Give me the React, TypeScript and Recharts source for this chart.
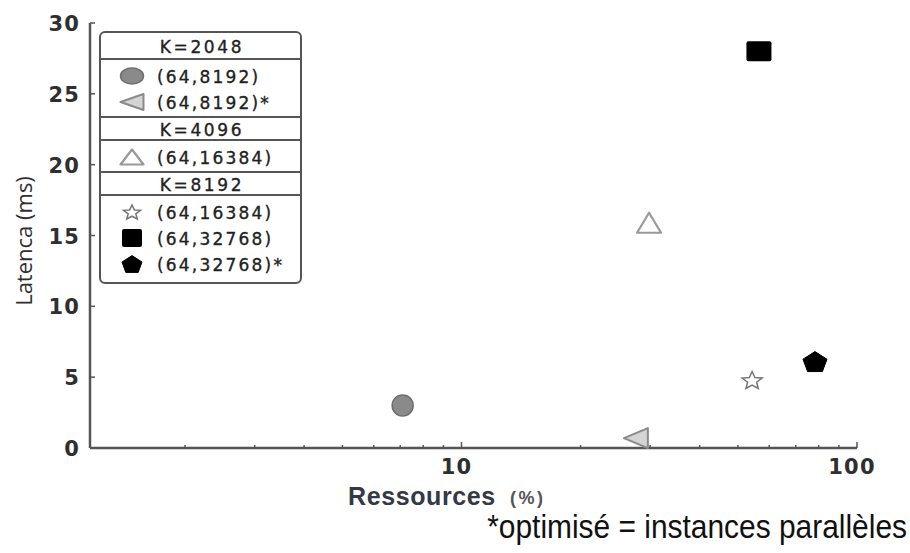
import React from "react";
import { Label, Legend, Scatter, ScatterChart, XAxis, YAxis } from "recharts";

// groups shown as headers in the legend box
const groupTitles = ["K=2048", "K=4096", "K=8192"];

// one point per series
const seriesNames = ["(64,8192)", "(64,8192)*", "(64,16384)", "(64,16384)", "(64,32768)", "(64,32768)*"];
const seriesGroup = [0, 0, 1, 2, 2, 2];
const seriesMarker = ["circle", "triLeft", "triUp", "star", "square", "pentagon"];
const resources = [7.1, 27.6, 29.8, 54.3, 56.5, 78.3];
const latency = [3.0, 0.7, 15.9, 4.8, 28.0, 6.1];

const xTicks = [2, 3, 4, 5, 6, 7, 8, 9, 10, 20, 30, 40, 50, 60, 70, 80, 90, 100];
const xLabeled = [10, 100];
const yTicks = [0, 5, 10, 15, 20, 25, 30];

const AXIS = "#555";

const starPoints = (cx, cy, w, h, spikes, inner) => {
  const pts = [];
  const n = inner ? spikes * 2 : spikes;
  const step = (Math.PI * 2) / n;
  const rx = w / 1.902;
  const ry = h / 1.809;
  const dy = 0.095 * ry;
  for (let i = 0; i < n; i++) {
    const a = -Math.PI / 2 + i * step;
    const r = inner && i % 2 === 1 ? inner : 1;
    pts.push(`${cx + Math.cos(a) * r * rx},${cy + dy + Math.sin(a) * r * ry}`);
  }
  return pts.join(" ");
};

const Marker = ({ kind, cx, cy, legend }) => {
  switch (kind) {
    case "circle":
      return legend ? (
        <ellipse cx={cx} cy={cy} rx={11.5} ry={8} fill="#8a8a8a" stroke="#6e6e6e" strokeWidth={1.5} />
      ) : (
        <circle cx={cx} cy={cy} r={10.5} fill="#8a8a8a" stroke="#6e6e6e" strokeWidth={1.5} />
      );
    case "triLeft": {
      const w = legend ? 23 : 24;
      const h = legend ? 16 : 20;
      return (
        <polygon
          points={`${cx - w / 2},${cy} ${cx + w / 2},${cy - h / 2} ${cx + w / 2},${cy + h / 2}`}
          fill="#d4d4d4"
          stroke="#8a8a8a"
          strokeWidth={2}
          strokeLinejoin="round"
        />
      );
    }
    case "triUp": {
      const w = legend ? 23 : 24;
      const h = legend ? 15 : 20;
      return (
        <polygon
          points={`${cx},${cy - h / 2} ${cx + w / 2},${cy + h / 2} ${cx - w / 2},${cy + h / 2}`}
          fill="#fff"
          stroke="#999"
          strokeWidth={2.2}
          strokeLinejoin="round"
        />
      );
    }
    case "star": {
      const w = legend ? 17 : 20;
      const h = legend ? 14 : 17;
      return <polygon points={starPoints(cx, cy, w, h, 5, 0.45)} fill="#fff" stroke="#777" strokeWidth={1.5} />;
    }
    case "square": {
      const w = legend ? 20 : 25;
      const h = legend ? 18 : 20;
      return <rect x={cx - w / 2} y={cy - h / 2} width={w} height={h} rx={2} fill="#000" />;
    }
    case "pentagon": {
      const w = legend ? 20 : 24;
      const h = legend ? 16 : 19;
      return <polygon points={starPoints(cx, cy, w, h * 1.05, 5, 0)} fill="#000" stroke="#000" strokeWidth={1} strokeLinejoin="round" />;
    }
    default:
      return null;
  }
};

const tickFont = {
  fontFamily: "DejaVu Sans",
  fontWeight: "bold",
  fontSize: 21,
  letterSpacing: 1.2,
  fill: "#2f2f2f"
};

const XTick = (props) => {
  const { x, y, payload } = props;
  const v = payload.value;
  const major = xLabeled.includes(v);
  return (
    <g>
      <line x1={x} x2={x} y1={y} y2={y - (major ? 6 : 3)} stroke={AXIS} strokeWidth={1.5} />
      {major && (
        <text x={x - 5} y={y + 26} textAnchor="middle" {...tickFont}>
          {v}
        </text>
      )}
    </g>
  );
};

const YTick = (props) => {
  const { x, y, payload } = props;
  return (
    <g>
      <line x1={x} x2={x + 5} y1={y} y2={y} stroke={AXIS} strokeWidth={1.5} />
      <text x={x - 10} y={y + 8} textAnchor="end" {...tickFont}>
        {payload.value}
      </text>
    </g>
  );
};

const XTitle = (props) => {
  const vb = props.viewBox;
  const noteX = vb.x + vb.width + 50;
  const noteY = vb.y + 90;
  return (
    <g>
      <text x={vb.x + 258} y={vb.y + 57} fontFamily="Liberation Sans" fontWeight="bold" fontSize={25} letterSpacing={0.6} fill="#333a46">
        Ressources
      </text>
      <text x={vb.x + 420} y={vb.y + 56} fontFamily="Liberation Sans" fontWeight="bold" fontSize={18} letterSpacing={2.5} fill="#555">
        (%)
      </text>
      <text
        x={0}
        y={0}
        transform={`translate(${noteX}, ${noteY}) scale(0.88, 1)`}
        textAnchor="end"
        fontFamily="Liberation Sans"
        fontSize={34}
        fill="#111"
      >
        *optimisé = instances parallèles
      </text>
    </g>
  );
};

const YTitle = () => (
  <text x={32} y={241} transform="rotate(-90, 32, 241)" textAnchor="middle" fontFamily="Open Sans" fontSize={22} fill="#2f2f2f">
    Latenca (ms)
  </text>
);

const legendFont = {
  fontFamily: "DejaVu Sans",
  fontSize: 17,
  fill: "#222",
  stroke: "#222",
  strokeWidth: 0.35
};

const LegendBox = () => {
  const rows = [];
  const lines = [];
  let y = 1;
  groupTitles.forEach((title, g) => {
    const hh = g === 0 ? 27 : 23;
    if (g > 0) lines.push(y);
    rows.push(
      <text key={`h${g}`} x={103} y={y + hh / 2 + 1} textAnchor="middle" dominantBaseline="central" letterSpacing={2.6} {...legendFont}>
        {title}
      </text>
    );
    y += hh;
    lines.push(y);
    y += 4;
    seriesNames.forEach((name, i) => {
      if (seriesGroup[i] !== g) return;
      rows.push(
        <g key={`s${i}`}>
          <Marker kind={seriesMarker[i]} cx={33} cy={y + 13} legend />
          <text x={58} y={y + 14} dominantBaseline="central" letterSpacing={2.2} {...legendFont}>
            {name}
          </text>
        </g>
      );
      y += 26;
    });
    y += 2;
  });
  const boxH = Math.max(y + 2, 251);
  return (
    <svg width={204} height={boxH + 3} style={{ display: "block" }}>
      <rect x={1} y={1} width={201} height={boxH} rx={5} fill="#fff" stroke={AXIS} strokeWidth={2} />
      {lines.map((ly, i) => (
        <line key={i} x1={1} x2={202} y1={ly} y2={ly} stroke={AXIS} strokeWidth={2} />
      ))}
      {rows}
    </svg>
  );
};

export default function App() {
  return (
    <div style={{ position: "absolute", left: 0, top: 0, background: "#fff" }}>
      <ScatterChart width={910} height={553} margin={{ top: 23, right: 53, bottom: 5, left: 0 }}>
        <XAxis
          type="number"
          dataKey="x"
          scale="log"
          domain={[1.15, 100]}
          allowDataOverflow
          ticks={xTicks}
          interval={0}
          tick={<XTick />}
          tickLine={false}
          tickSize={0}
          tickMargin={0}
          height={100}
          axisLine={{ stroke: AXIS, strokeWidth: 2.5 }}
        >
          <Label content={<XTitle />} />
        </XAxis>
        <YAxis
          type="number"
          dataKey="y"
          domain={[0, 30]}
          ticks={yTicks}
          interval={0}
          tick={<YTick />}
          tickLine={false}
          tickSize={0}
          tickMargin={0}
          width={90}
          axisLine={{ stroke: AXIS, strokeWidth: 2.5 }}
        >
          <Label content={<YTitle />} />
        </YAxis>
        <Legend
          layout="vertical"
          align="center"
          verticalAlign="middle"
          content={<LegendBox />}
          wrapperStyle={{ left: 99, top: 31, width: 204, height: 256 }}
        />
        {seriesNames.map((name, i) => (
          <Scatter
            key={i}
            name={name}
            data={[{ x: resources[i], y: latency[i] }]}
            isAnimationActive={false}
            shape={(p) => <Marker kind={seriesMarker[i]} cx={p.cx} cy={p.cy} />}
          />
        ))}
      </ScatterChart>
    </div>
  );
}
